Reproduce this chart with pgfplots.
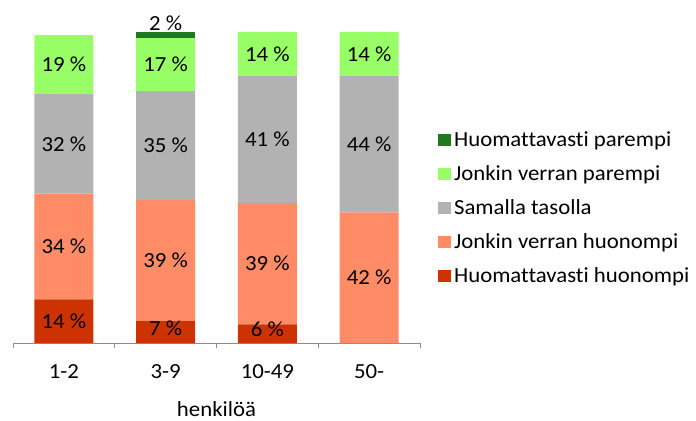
\documentclass[border=0pt]{standalone}
\usepackage{pgfplots}
\pgfplotsset{compat=1.18}
\usepackage{fontspec}
\setmainfont{Carlito}[FakeStretch=1.06, Ligatures=NoCommon]
\definecolor{dgreen}{HTML}{1F7A1F}
\definecolor{lgreen}{HTML}{99FF66}
\definecolor{sgray}{HTML}{B2B2B2}
\definecolor{salmon}{HTML}{FF8C66}
\definecolor{dred}{HTML}{CC3300}
\begin{document}
\begin{tikzpicture}[font=\fontsize{21.5bp}{25bp}\selectfont]
\useasboundingbox (-13bp,-78bp) rectangle (683bp,343bp);
\pgfplotsset{
  base/.style={width=407bp, height=311bp, scale only axis, xmin=-0.5, xmax=3.5, ymin=0, ymax=100, clip=false}
}
\begin{axis}[base, ybar stacked, bar width=59bp,
  axis y line=none, axis x line*=bottom,
  axis line style={draw=gray!90, line width=0.8bp},
  xtick={0,1,2,3}, xticklabels={1-2,3-9,10-49,50-},
  major tick length=0pt,
  xticklabel style={anchor=center, yshift=-29bp},
  extra x ticks={-0.5,0.5,1.5,2.5,3.5}, extra x tick labels={},
  extra x tick style={major tick length=5bp, tick align=outside, tick style={draw=gray!90, line width=0.8bp}},
  xlabel={henkilöä},
  xlabel style={at={(axis description cs:0.5,0)}, anchor=center, yshift=-66bp},
  reverse legend,
  legend cell align=left,
  every axis plot post/.append style={/pgfplots/legend image code/.code={\fill[##1] (0bp,-6bp) rectangle (13bp,6bp);}},
  legend style={draw=none, fill=none, at={(axis description cs:1.044,0.685)}, anchor=north west, row sep=13.5bp, column sep=1bp, inner sep=0pt},
  /pgf/number format/assume math mode=true,
]
\addplot[fill=dred, draw=none] coordinates {(0,14) (1,7) (2,6) (3,0)};
\addplot[fill=salmon, draw=none] coordinates {(0,34) (1,39) (2,39) (3,42)};
\addplot[fill=sgray, draw=none] coordinates {(0,32) (1,35) (2,41) (3,44)};
\addplot[fill=lgreen, draw=none] coordinates {(0,19) (1,17) (2,14) (3,14)};
\addplot[fill=dgreen, draw=none] coordinates {(0,0) (1,2) (2,0) (3,0)};
\legend{Huomattavasti huonompi, Jonkin verran huonompi, Samalla tasolla, Jonkin verran parempi, Huomattavasti parempi}
\end{axis}
\begin{axis}[base, hide axis]
\addplot[draw=none, mark=none, nodes near coords, point meta=explicit symbolic,
  every node near coord/.style={anchor=center}] coordinates {
  (0,7) [14 \%] (0,31) [34 \%] (0,64) [32 \%] (0,89.5) [19 \%]
  (1,4.8) [7 \%] (1,26.5) [39 \%] (1,63.5) [35 \%] (1,89.5) [17 \%] (1,102.7) [2 \%]
  (2,4.3) [6 \%] (2,25.5) [39 \%] (2,65.5) [41 \%] (2,93) [14 \%]
  (3,21) [42 \%] (3,64) [44 \%] (3,93) [14 \%]
};
\end{axis}
\end{tikzpicture}
\end{document}
